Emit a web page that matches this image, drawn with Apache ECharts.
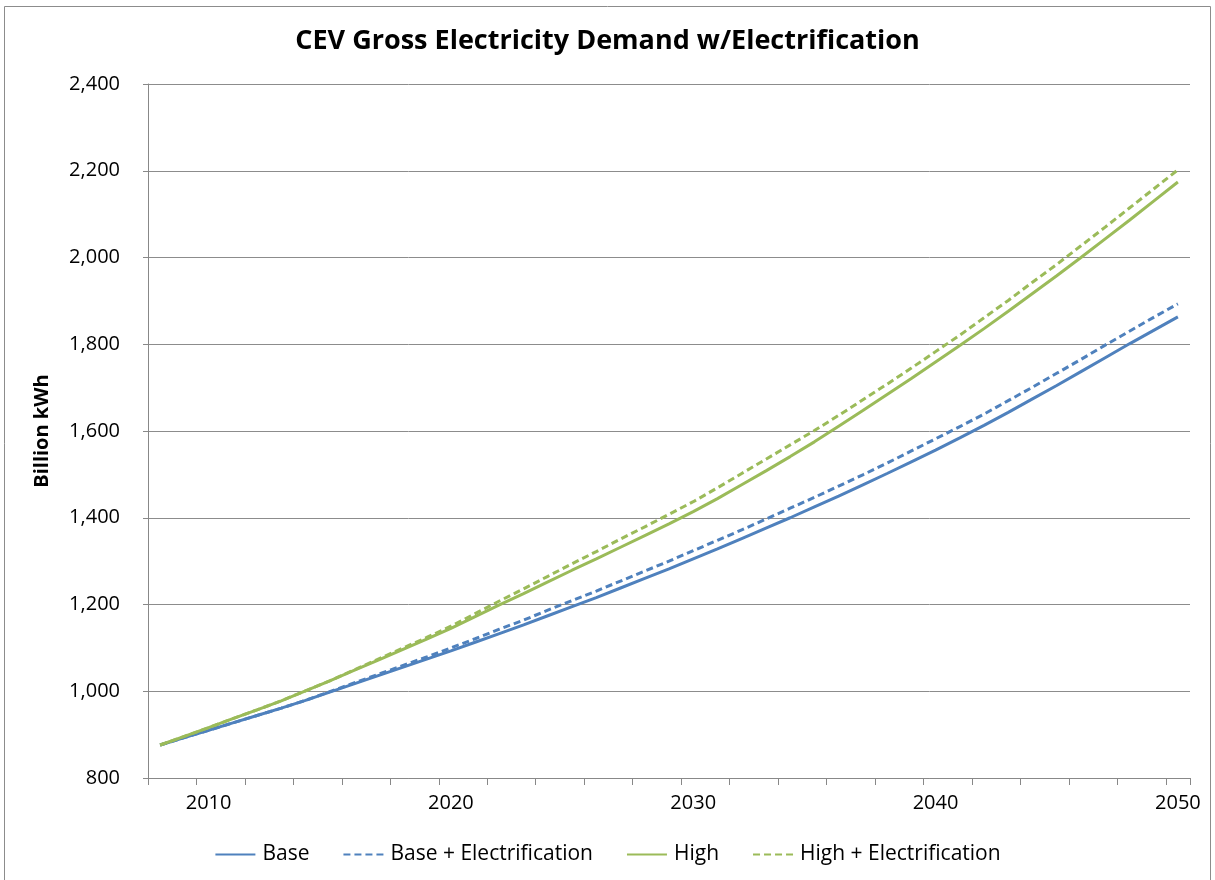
<!DOCTYPE html>
<html>
<head>
<meta charset="utf-8">
<script src="https://cdn.jsdelivr.net/npm/echarts@6/dist/echarts.min.js"></script>
<style>
    html, body { margin: 0; padding: 0; background: #fff; }
    #chart { width: 1215px; height: 880px; }
</style>
</head>
<body>
<div id="chart"></div>
<script>
// years 2008..2050
const years = []
for (let y = 2008; y <= 2050; y++) years.push(String(y))

const base = [876, 893, 910, 927, 944, 961, 979, 998, 1017, 1036, 1055, 1074, 1093, 1113, 1133, 1153, 1174, 1195,
    1216, 1238, 1260, 1282, 1305, 1328, 1352, 1376, 1400, 1425, 1450, 1476, 1502, 1529, 1556, 1584, 1613, 1643,
    1674, 1705, 1737, 1769, 1801, 1832, 1863]
const baseElec = [876, 893, 910, 927, 944, 961, 979, 999, 1019, 1039, 1059, 1079, 1100, 1121, 1143, 1164, 1187, 1209,
    1231, 1254, 1277, 1300, 1324, 1348, 1372, 1397, 1422, 1447, 1473, 1499, 1526, 1554, 1582, 1610, 1639, 1670,
    1701, 1733, 1765, 1798, 1830, 1862, 1893]
const high = [876, 896, 916, 937, 957, 978, 1001, 1024, 1048, 1072, 1096, 1120, 1145, 1172, 1199, 1225, 1252, 1279,
    1305, 1332, 1359, 1386, 1414, 1444, 1476, 1508, 1541, 1575, 1611, 1647, 1684, 1721, 1759, 1797, 1836, 1876,
    1917, 1958, 2000, 2043, 2086, 2130, 2174]
const highElec = [876, 896, 916, 937, 957, 978, 1001, 1024, 1049, 1074, 1099, 1124, 1150, 1179, 1208, 1236, 1265, 1294,
    1322, 1351, 1379, 1408, 1437, 1469, 1502, 1535, 1568, 1601, 1636, 1672, 1708, 1745, 1783, 1821, 1861, 1901,
    1943, 1984, 2027, 2070, 2114, 2158, 2202]

const BLUE = '#4F81BD'
const GREEN = '#9BBB59'
const FONT = 'Open Sans'

function lineSeries(name, data, color, dashed) {
    return {
        name: name,
        type: 'line',
        data: data,
        symbol: 'none',
        smooth: false,
        color: color,
        lineStyle: { width: 3, color: color, type: dashed ? [7, 4] : 'solid' }
    }
}

const chart = echarts.init(document.getElementById('chart'))
chart.setOption({
    backgroundColor: '#fff',
    animation: false,
    textStyle: { fontFamily: FONT },
    title: {
        text: 'CEV Gross Electricity Demand w/Electrification',
        left: 'center',
        top: 23,
        textStyle: { fontFamily: FONT, fontSize: 27, fontWeight: 'bold', color: '#000' }
    },
    graphic: [{
        type: 'rect',
        shape: { x: 4.5, y: 6.5, width: 1206, height: 900 },
        style: { fill: 'none', stroke: '#8c8c8c', lineWidth: 1 },
        silent: true
    }],
    grid: { left: 148, right: 25, top: 84, bottom: 102 },
    legend: {
        top: 839,
        left: 'center',
        itemWidth: 40,
        itemHeight: 3,
        itemGap: 33,
        itemStyle: { color: 'transparent', borderWidth: 0 },
        textStyle: { fontFamily: FONT, fontSize: 21, color: '#000', padding: [0, 0, 0, 2] },
        data: ['Base', 'Base + Electrification', 'High', 'High + Electrification']
    },
    xAxis: {
        type: 'category',
        data: years,
        boundaryGap: true,
        axisLine: { lineStyle: { color: '#888', width: 1 } },
        axisTick: {
            show: true,
            length: 7,
            lineStyle: { color: '#888' },
            interval: 1
        },
        axisLabel: {
            interval: (idx, val) => Number(val) % 10 === 0,
            color: '#000',
            fontSize: 20,
            fontFamily: FONT,
            margin: 15
        },
        splitLine: { show: false }
    },
    yAxis: {
        type: 'value',
        min: 800,
        max: 2400,
        interval: 200,
        name: 'Billion kWh',
        nameLocation: 'middle',
        nameGap: 96,
        nameTextStyle: { fontFamily: FONT, fontSize: 20, fontWeight: 'bold', color: '#000' },
        axisLine: { show: true, lineStyle: { color: '#888', width: 1 } },
        axisTick: { show: true, length: 5, lineStyle: { color: '#888' } },
        axisLabel: {
            color: '#000',
            fontSize: 20,
            fontFamily: FONT,
            margin: 28,
            formatter: (v) => v.toLocaleString('en-US')
        },
        splitLine: { lineStyle: { color: '#8c8c8c', width: 1 } }
    },
    series: [
        lineSeries('Base', base, BLUE, false),
        lineSeries('Base + Electrification', baseElec, BLUE, true),
        lineSeries('High', high, GREEN, false),
        lineSeries('High + Electrification', highElec, GREEN, true)
    ]
})
</script>
</body>
</html>
